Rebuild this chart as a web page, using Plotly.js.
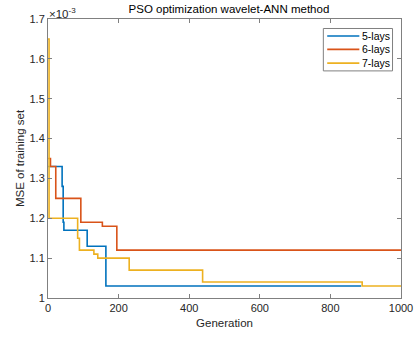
<!DOCTYPE html>
<html><head><meta charset="utf-8">
<script src="https://cdn.plot.ly/plotly-3.0.1.min.js"></script>
<style>html,body{margin:0;padding:0;background:#fff}#c{width:414px;height:337px}</style>
</head><body><div id="c"></div>
<script>
// MSE values in units of 1e-3
var gen5 = [1, 40, 43, 45, 48, 111, 164, 887];
var mse5 = [1.33, 1.28, 1.19, 1.17, 1.17, 1.13, 1.03, 1.03];
var gen6 = [1, 7, 22, 93, 154, 195, 1000];
var mse6 = [1.35, 1.33, 1.25, 1.19, 1.18, 1.12, 1.12];
var gen7 = [0, 3, 84, 89, 130, 141, 230, 438, 890, 1000];
var mse7 = [1.65, 1.20, 1.15, 1.12, 1.11, 1.10, 1.07, 1.04, 1.03, 1.03];
var names = ["5-lays", "6-lays", "7-lays"];
var colors = ["#0072BD", "#D95319", "#EDB120"];
var xTicks = [0, 200, 400, 600, 800, 1000];
var yTicks = [1, 1.1, 1.2, 1.3, 1.4, 1.5, 1.6, 1.7];
var yTickText = ["1", "1.1", "1.2", "1.3", "1.4", "1.5", "1.6", "1.7"];

var fam = "Liberation Sans, Arial, sans-serif";
var font = {family: fam, size: 11, color: "#262626"};
var traces = [[gen5, mse5], [gen6, mse6], [gen7, mse7]].map(function (d, i) {
  return {x: d[0], y: d[1], name: names[i], type: "scatter", mode: "lines",
    line: {shape: "hv", color: colors[i], width: 1.6}, showlegend: false};
});
var ax = {showgrid: false, zeroline: false, showline: true, mirror: "ticks",
  linecolor: "#808080", linewidth: 1, ticks: "inside", ticklen: 4, tickcolor: "#808080",
  tickfont: font};

// legend drawn as a boxed key in paper coordinates
var shapes = [{type: "rect", xref: "paper", yref: "paper", x0: 0.780, x1: 0.976, y0: 0.814, y1: 0.966,
  line: {color: "#808080", width: 1}, fillcolor: "#fff", layer: "above"}];
var annotations = [{text: "×10<sup>-3</sup>", xref: "paper", yref: "paper", x: -0.002, y: 1,
  xanchor: "left", yanchor: "bottom", showarrow: false, font: {family: fam, size: 11.5, color: "#262626"}, yshift: -3}];
var rowY = [0.939, 0.891, 0.842];
names.forEach(function (n, i) {
  shapes.push({type: "line", xref: "paper", yref: "paper", x0: 0.791, x1: 0.882, y0: rowY[i], y1: rowY[i],
    line: {color: colors[i], width: 1.6}, layer: "above"});
  annotations.push({text: n, xref: "paper", yref: "paper", x: 0.884, y: rowY[i], xanchor: "left",
    yanchor: "middle", showarrow: false, font: {family: fam, size: 10.5, color: "#000"}});
});

var layout = {
  width: 414, height: 337,
  margin: {l: 48, r: 13, t: 19, b: 39},
  paper_bgcolor: "#fff", plot_bgcolor: "#fff",
  font: font,
  title: {text: "PSO optimization wavelet-ANN method", font: {family: fam, size: 11.5, color: "#000"},
    x: 0.553, xanchor: "center", y: 0.985, yanchor: "top"},
  xaxis: Object.assign({}, ax, {range: [0, 1000], tickvals: xTicks, ticklabelstandoff: 0,
    title: {text: "Generation", font: {family: fam, size: 11.5, color: "#262626"}, standoff: 5}}),
  yaxis: Object.assign({}, ax, {range: [1, 1.7], tickvals: yTicks, ticktext: yTickText,
    title: {text: "MSE of training set", font: {family: fam, size: 11.5, color: "#262626"}, standoff: 2}}),
  shapes: shapes,
  annotations: annotations
};
Plotly.newPlot("c", traces, layout, {displayModeBar: false, staticPlot: true});
</script></body></html>
